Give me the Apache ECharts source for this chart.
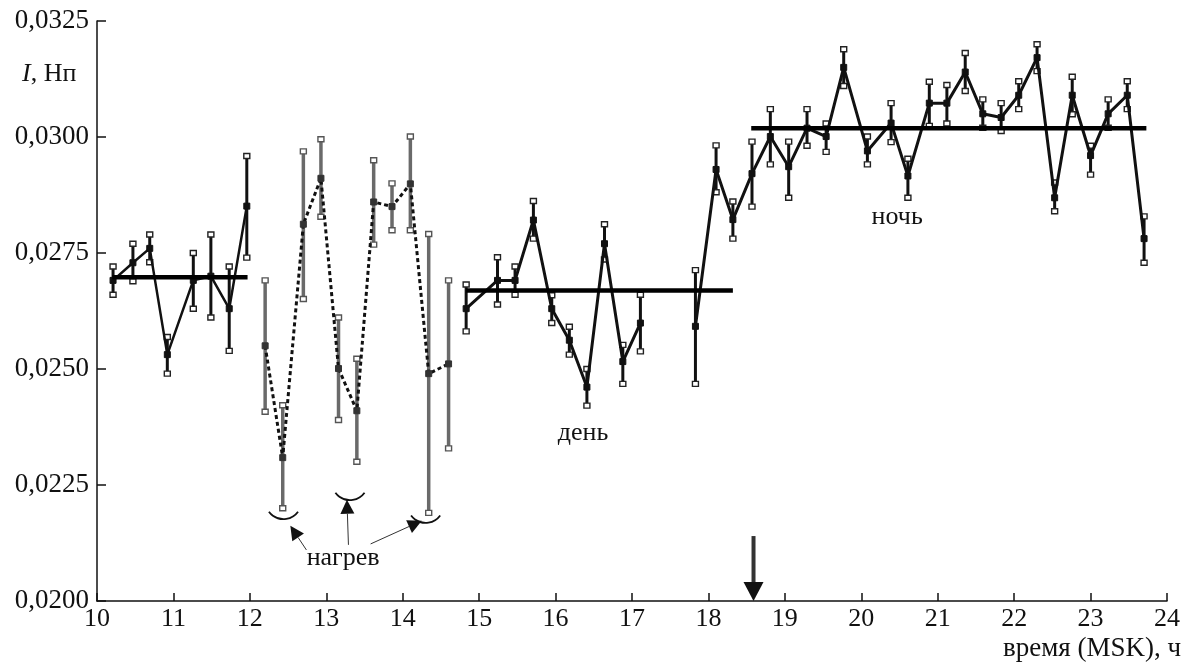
<!DOCTYPE html>
<html>
<head>
<meta charset="utf-8">
<script src="https://cdn.jsdelivr.net/npm/echarts@6/dist/echarts.min.js"></script>
<style>html,body{margin:0;padding:0;background:#fff}#c{width:1183px;height:663px}</style>
</head>
<body>
<div id="c"></div>
<script>
// ---- Data (time in hours MSK, I in Np) ----
// before heating
const t1 = [10.21, 10.47, 10.69, 10.92, 11.26, 11.49, 11.73, 11.96];
const v1 = [0.02691, 0.02729, 0.02760, 0.02531, 0.02691, 0.02700, 0.02630, 0.02851];
const hi1 = [0.02721, 0.02770, 0.02790, 0.02569, 0.02750, 0.02790, 0.02721, 0.02959];
const lo1 = [0.02660, 0.02689, 0.02730, 0.02490, 0.02630, 0.02611, 0.02539, 0.02740];
// heating
const t2 = [12.20, 12.43, 12.70, 12.93, 13.16, 13.40, 13.62, 13.86, 14.10, 14.34, 14.60];
const v2 = [0.02550, 0.02309, 0.02812, 0.02911, 0.02501, 0.02410, 0.02860, 0.02850, 0.02899, 0.02490, 0.02511];
const hi2 = [0.02691, 0.02422, 0.02969, 0.02995, 0.02611, 0.02522, 0.02950, 0.02900, 0.03001, 0.02791, 0.02691];
const lo2 = [0.02408, 0.02200, 0.02651, 0.02828, 0.02390, 0.02300, 0.02768, 0.02799, 0.02799, 0.02190, 0.02329];
// day
const t3 = [14.83, 15.24, 15.47, 15.71, 15.95, 16.18, 16.41, 16.64, 16.88, 17.11];
const v3 = [0.02630, 0.02691, 0.02691, 0.02821, 0.02630, 0.02562, 0.02461, 0.02770, 0.02516, 0.02599];
const hi3 = [0.02682, 0.02741, 0.02721, 0.02862, 0.02659, 0.02591, 0.02500, 0.02812, 0.02552, 0.02660];
const lo3 = [0.02581, 0.02639, 0.02660, 0.02781, 0.02599, 0.02531, 0.02421, 0.02736, 0.02468, 0.02538];
// evening and night
const t4 = [17.83, 18.10, 18.32, 18.57, 18.81, 19.05, 19.29, 19.54, 19.77, 20.08, 20.39, 20.61, 20.89, 21.12, 21.36, 21.59, 21.83, 22.06, 22.30, 22.53, 22.76, 23.00, 23.23, 23.48, 23.70];
const v4 = [0.02592, 0.02930, 0.02822, 0.02921, 0.03001, 0.02936, 0.03019, 0.03001, 0.03150, 0.02970, 0.03030, 0.02916, 0.03073, 0.03073, 0.03140, 0.03050, 0.03042, 0.03090, 0.03171, 0.02869, 0.03090, 0.02960, 0.03050, 0.03090, 0.02781];
const hi4 = [0.02713, 0.02982, 0.02861, 0.02990, 0.03060, 0.02990, 0.03060, 0.03029, 0.03189, 0.03001, 0.03073, 0.02953, 0.03119, 0.03112, 0.03181, 0.03081, 0.03073, 0.03120, 0.03200, 0.02902, 0.03130, 0.02981, 0.03081, 0.03120, 0.02829];
const lo4 = [0.02468, 0.02881, 0.02781, 0.02850, 0.02941, 0.02869, 0.02981, 0.02968, 0.03110, 0.02941, 0.02989, 0.02869, 0.03024, 0.03029, 0.03099, 0.03020, 0.03013, 0.03060, 0.03142, 0.02840, 0.03049, 0.02919, 0.03020, 0.03060, 0.02729];
// mean levels: [tStart, tEnd, level]
const mean1 = [10.20, 11.97, 0.02698];
const mean3 = [14.83, 18.32, 0.02669];
const mean4 = [18.56, 23.73, 0.03019];
// axis
const xTicks = [10, 24, 1];
const yTicks = [0.0200, 0.0325, 0.0025];
// annotations (data coordinates)
const heatArcs = [[12.44, 0.02185], [13.31, 0.02226], [14.30, 0.02177]];
const heatArrows = [[[12.74, 0.02110], [12.53, 0.02162]], [[13.29, 0.02121], [13.27, 0.02218]], [[13.58, 0.02123], [14.25, 0.02173]]];
const heatLabel = ['нагрев', 13.22, 0.02093];
const dayLabel = ['день', 16.36, 0.02362];
const nightLabel = ['ночь', 20.47, 0.02828];
const sunsetArrow = [18.59, 0.02140, 0.0200];

const FONT = '"Liberation Serif", "DejaVu Serif", serif';
const zip = (a, b) => a.map((x, i) => [x, b[i]]);
const zip3 = (a, b, c) => a.map((x, i) => [x, b[i], c[i]]);

function errSeries(t, lo, hi, stroke, capStroke, w) {
  return {
    type: 'custom', z: 2, silent: true,
    data: zip3(t, lo, hi),
    renderItem: function (params, api) {
      const x = api.value(0);
      const pl = api.coord([x, api.value(1)]);
      const ph = api.coord([x, api.value(2)]);
      return {
        type: 'group', children: [
          { type: 'line', shape: { x1: pl[0], y1: pl[1], x2: ph[0], y2: ph[1] }, style: { stroke: stroke, lineWidth: w } },
          { type: 'rect', z2: 5, shape: { x: ph[0] - 3, y: ph[1] - 2.5, width: 6, height: 5 }, style: { fill: '#fff', stroke: capStroke, lineWidth: 1.4 } },
          { type: 'rect', z2: 5, shape: { x: pl[0] - 3, y: pl[1] - 2.5, width: 6, height: 5 }, style: { fill: '#fff', stroke: capStroke, lineWidth: 1.4 } }
        ]
      };
    }
  };
}
function lineSeries(t, v, dash, w, col) {
  return {
    type: 'line', z: 3, silent: true, data: zip(t, v),
    symbol: 'rect', symbolSize: [6, 6], showAllSymbol: true,
    itemStyle: { color: col, borderColor: col },
    lineStyle: { color: '#111', width: w, type: dash }
  };
}
function meanSeries(m) {
  return {
    type: 'line', z: 4, silent: true, symbol: 'none',
    data: [[m[0], m[2]], [m[1], m[2]]],
    lineStyle: { color: '#000', width: 4.5 }
  };
}

const chart = echarts.init(document.getElementById('c'), null, { renderer: 'canvas' });
chart.setOption({
  animation: false,
  backgroundColor: '#fff',
  grid: { left: 97, right: 7, top: 21, bottom: 62 },
  xAxis: {
    type: 'value', min: xTicks[0], max: xTicks[1], interval: xTicks[2],
    axisLine: { lineStyle: { color: '#111', width: 1.5 } },
    axisTick: { inside: true, length: 8, lineStyle: { color: '#111', width: 1.5 } },
    axisLabel: { color: '#111', fontFamily: FONT, fontSize: 26, margin: 5 },
    splitLine: { show: false }
  },
  yAxis: {
    type: 'value', min: yTicks[0], max: yTicks[1], interval: yTicks[2],
    axisLine: { show: true, lineStyle: { color: '#111', width: 1.5 } },
    axisTick: { show: true, inside: true, length: 9, lineStyle: { color: '#111', width: 1.5 } },
    axisLabel: { color: '#111', fontFamily: FONT, fontSize: 27, margin: 8,
      formatter: v => v.toFixed(4).replace('.', ',') },
    splitLine: { show: false }
  },
  series: [
    errSeries(t1, lo1, hi1, '#111', '#222', 3),
    errSeries(t2, lo2, hi2, '#6a6a6a', '#555', 3.5),
    errSeries(t3, lo3, hi3, '#111', '#222', 3),
    errSeries(t4, lo4, hi4, '#111', '#222', 3),
    lineSeries(t1, v1, 'solid', 2.5, '#111'),
    lineSeries(t2, v2, [4, 3], 3, '#333'),
    lineSeries(t3, v3, 'solid', 3, '#111'),
    lineSeries(t4, v4, 'solid', 3, '#111'),
    meanSeries(mean1), meanSeries(mean3), meanSeries(mean4)
  ]
});

function px(p) { return chart.convertToPixel({ gridIndex: 0 }, p); }
const g = [];
heatArcs.forEach(a => {
  const c = px(a);
  g.push({ type: 'arc', shape: { cx: c[0], cy: c[1] - 14, r: 18, startAngle: Math.PI * 0.2, endAngle: Math.PI * 0.8 },
    style: { stroke: '#111', lineWidth: 1.8, fill: null }, z: 10 });
});
function arrow(p0, p1, head, hw, lw) {
  const dx = p1[0] - p0[0], dy = p1[1] - p0[1];
  const L = Math.hypot(dx, dy), ux = dx / L, uy = dy / L;
  const bx = p1[0] - ux * head, by = p1[1] - uy * head;
  g.push({ type: 'line', shape: { x1: p0[0], y1: p0[1], x2: bx, y2: by }, style: { stroke: '#333', lineWidth: lw }, z: 10 });
  g.push({ type: 'polygon', shape: { points: [[p1[0], p1[1]], [bx - uy * hw, by + ux * hw], [bx + uy * hw, by - ux * hw]] },
    style: { fill: '#111' }, z: 10 });
}
heatArrows.forEach(a => arrow(px(a[0]), px(a[1]), 14, 7, 1));
arrow(px([sunsetArrow[0], sunsetArrow[1]]), px([sunsetArrow[0], sunsetArrow[2]]), 19, 10, 4);
function label(l) {
  const c = px([l[1], l[2]]);
  g.push({ type: 'text', x: c[0], y: c[1], z: 10,
    style: { text: l[0], fontFamily: FONT, fontSize: 26, fill: '#111', align: 'center', verticalAlign: 'middle' } });
}
label(heatLabel); label(dayLabel); label(nightLabel);
g.push({ type: 'text', left: 22, top: 61, z: 10,
  style: { text: '{i|I}, Нп', fontFamily: FONT, fontSize: 26, fill: '#111',
    rich: { i: { fontStyle: 'italic', fontFamily: FONT, fontSize: 26, fill: '#111' } } } });
g.push({ type: 'text', right: 2, top: 635, z: 10,
  style: { text: 'время (MSK), ч', fontFamily: FONT, fontSize: 27, fill: '#111' } });
chart.setOption({ graphic: g });
</script>
</body>
</html>
